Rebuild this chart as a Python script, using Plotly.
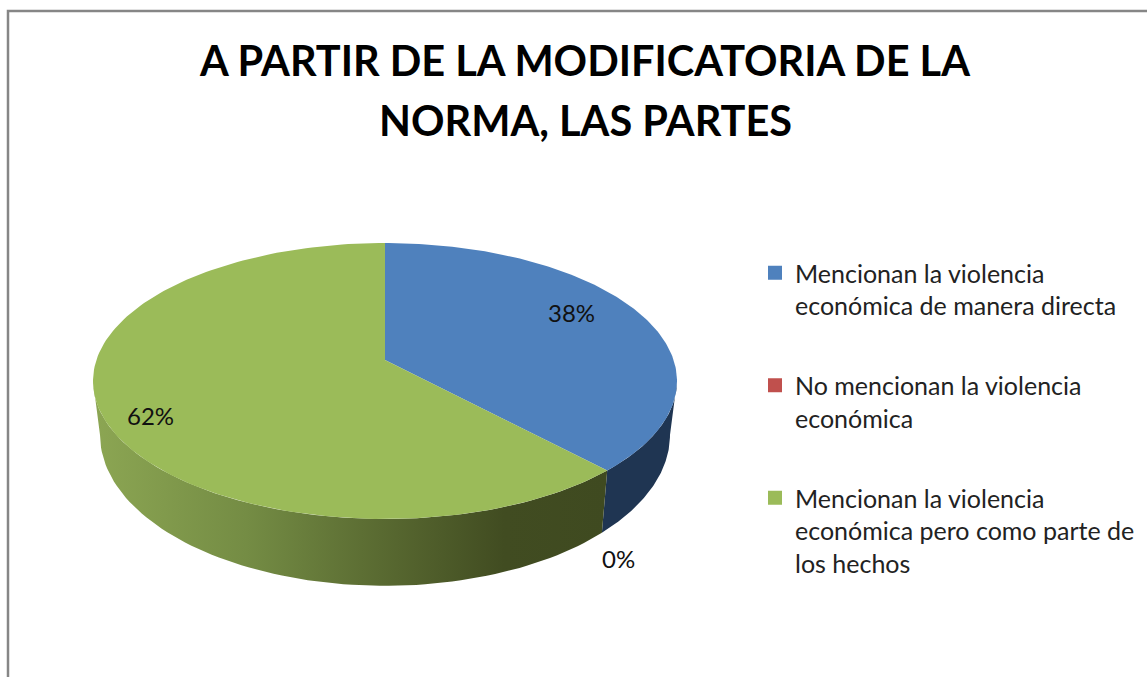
import numpy as np
import plotly.graph_objects as go

# data
categories = [
    "Mencionan la violencia<br>económica de manera directa",
    "No mencionan la violencia<br>económica",
    "Mencionan la violencia<br>económica pero como parte de<br>los hechos",
]
values = [38, 0, 62]
colors = ["#4F81BD", "#C0504D", "#9BBB59"]
side_colors = ["#1F3552", "#6E2E2C", "#8CA653"]
title_lines = ["A PARTIR DE LA MODIFICATORIA DE LA", "NORMA, LAS PARTES"]

# label anchors on the page
label_x = [571, 618, 150]
label_y = [312, 558, 415]
title_y = [60, 120]

# pie projection (perspective view of a tilted disc), in page pixels
CX, CY = 385, 360
RX, RY, K = 288.6, 134.8, 0.1522
BOTTOM_CY, BOTTOM_SX, BOTTOM_SY = 412, 0.976, 1.093
T_RIGHT = np.degrees(np.arccos(-K))
T_LEFT = 360 - T_RIGHT

FONT = "Lato, Carlito, Calibri, sans-serif"


def project(t_deg, bottom=False):
    """Angle clockwise from 12 o'clock -> page x, y on the top or bottom rim"""
    t = np.radians(t_deg)
    w = 1 + K * np.cos(t)
    dx = RX * np.sin(t) / w
    dy = -RY * np.cos(t) / w
    if bottom:
        return CX + dx * BOTTOM_SX, BOTTOM_CY + dy * BOTTOM_SY
    return CX + dx, CY + dy


fig = go.Figure()

total = sum(values)
start = 0
tops = []
for name, val, col, side in zip(categories, values, colors, side_colors):
    end = start + val / total * 360
    plain = name.replace("<br>", " ")

    # side wall, only the part that faces the viewer
    a, b = max(start, T_RIGHT), min(end, T_LEFT)
    if b > a:
        ts = np.linspace(a, b, 80)
        xt, yt = project(ts)
        xb, yb = project(ts[::-1], bottom=True)
        wall = dict(
            x=np.r_[xt, xb, xt[0]], y=np.r_[yt, yb, yt[0]],
            mode="lines", line=dict(width=0), fill="toself",
            showlegend=False, hoverinfo="skip",
        )
        if col == colors[2]:
            wall["fillgradient"] = dict(
                type="horizontal",
                colorscale=[[0, "#8CA653"], [0.3, "#748C44"], [0.59, "#56662F"],
                            [0.8, "#414C21"], [1, "#3F4A20"]],
            )
        else:
            wall["fillcolor"] = side
        fig.add_trace(go.Scatter(**wall))

    # top face goes on after all walls
    ts = np.linspace(start, end, 160)
    xt, yt = project(ts)
    tops.append(go.Scatter(
        x=np.r_[CX, xt, CX], y=np.r_[CY, yt, CY],
        mode="lines", line=dict(width=0), fill="toself", fillcolor=col,
        showlegend=False, hoverinfo="text", text=f"{plain}: {val}%",
    ))
    start = end

fig.add_traces(tops)

# legend entries
for i, (name, col) in enumerate(zip(categories, colors)):
    fig.add_trace(go.Scatter(
        x=[None], y=[None], mode="markers", name=name, legendgroup=str(i),
        marker=dict(symbol="square", size=14, color=col),
    ))

# value labels
for val, x, y in zip(values, label_x, label_y):
    fig.add_annotation(x=x, y=y, text=f"{val}%", showarrow=False,
                       font=dict(family=FONT, size=24, color="#111111"))

# title, one annotation per line to get the wide line spacing
for line, y in zip(title_lines, title_y):
    fig.add_annotation(x=585, y=y, text=line, showarrow=False,
                       font=dict(family=FONT, size=41.5, color="black", weight="bold"))

# chart frame runs off the right and bottom of the page
fig.add_shape(type="rect", x0=8, y0=11, x1=1200, y1=720,
              line=dict(color="#868686", width=2.5), layer="below")

fig.update_layout(
    width=1147,
    height=677,
    margin=dict(l=0, r=0, t=0, b=0),
    paper_bgcolor="white",
    plot_bgcolor="white",
    font=dict(family=FONT),
    xaxis=dict(range=[0, 1147], visible=False, fixedrange=True),
    yaxis=dict(range=[677, 0], visible=False, fixedrange=True),
    legend=dict(
        x=755 / 1147, xanchor="left",
        y=1 - 250 / 677, yanchor="top",
        font=dict(family=FONT, size=25, color="#222222"),
        tracegroupgap=44.5,
        valign="top",
        bgcolor="rgba(0,0,0,0)",
    ),
)

fig.write_html("out.html", config=dict(displayModeBar=False),
               post_script="document.body.style.margin='0';")
